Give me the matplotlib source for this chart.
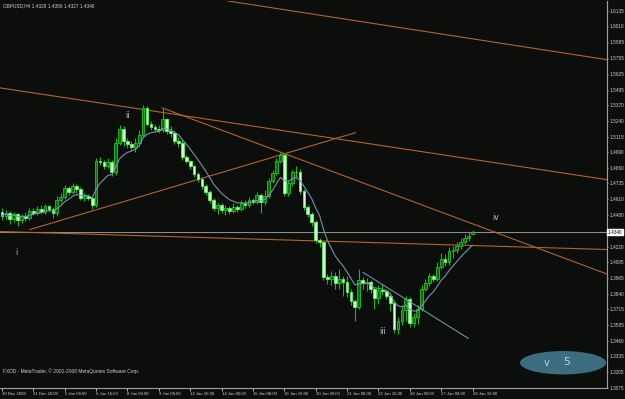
import numpy as np
import pandas as pd
import matplotlib
matplotlib.use("Agg")
import matplotlib.pyplot as plt
from matplotlib.patches import Ellipse

# =====================================================
# DATA (GBPUSD H4)
# =====================================================
first_open = 1.4507
closes = [1.4474, 1.4499, 1.4450, 1.4491, 1.4442, 1.4474, 1.4458, 1.4515, 1.4499, 1.4531,
          1.4507, 1.4555, 1.4531, 1.4499, 1.4604, 1.4628, 1.4701, 1.4669, 1.4718, 1.4693,
          1.4620, 1.4636, 1.4620, 1.4563, 1.4920, 1.4912, 1.4879, 1.4912, 1.4831, 1.5066,
          1.5179, 1.5082, 1.5058, 1.5033, 1.5066, 1.5131, 1.5349, 1.5220, 1.5195, 1.5179,
          1.5171, 1.5260, 1.5163, 1.5147, 1.5082, 1.5066, 1.4952, 1.4920, 1.4879, 1.4815,
          1.4774, 1.4718, 1.4669, 1.4604, 1.4539, 1.4563, 1.4523, 1.4539, 1.4515, 1.4547,
          1.4531, 1.4580, 1.4563, 1.4604, 1.4588, 1.4644, 1.4588, 1.4636, 1.4758, 1.4823,
          1.4920, 1.4968, 1.4661, 1.4742, 1.4831, 1.4828, 1.4677, 1.4547, 1.4491, 1.4426,
          1.4280, 1.4256, 1.3972, 1.3956, 1.3988, 1.3924, 1.3956, 1.3932, 1.3851, 1.3778,
          1.3729, 1.3948, 1.3924, 1.3932, 1.3875, 1.3802, 1.3867, 1.3859, 1.3818, 1.3762,
          1.3551, 1.3616, 1.3705, 1.3794, 1.3600, 1.3648, 1.3713, 1.3875, 1.3924, 1.3980,
          1.3956, 1.4061, 1.4118, 1.4094, 1.4183, 1.4199, 1.4231, 1.4264, 1.4296, 1.4312,
          1.4340]
highs = [1.4539, 1.4523, 1.4515, 1.4507, 1.4499, 1.4491, 1.4507, 1.4539, 1.4539, 1.4555,
         1.4564, 1.4572, 1.4563, 1.4547, 1.4636, 1.4661, 1.4726, 1.4718, 1.4742, 1.4734,
         1.4709, 1.4661, 1.4653, 1.4636, 1.4944, 1.4952, 1.4928, 1.4944, 1.4928, 1.5106,
         1.5212, 1.5203, 1.5106, 1.5082, 1.5106, 1.5171, 1.5374, 1.5365, 1.5244, 1.5220,
         1.5212, 1.5349, 1.5268, 1.5203, 1.5163, 1.5114, 1.5098, 1.4968, 1.4928, 1.4888,
         1.4831, 1.4790, 1.4734, 1.4685, 1.4620, 1.4580, 1.4580, 1.4563, 1.4555, 1.4580,
         1.4563, 1.4604, 1.4604, 1.4628, 1.4620, 1.4669, 1.4661, 1.4685, 1.4782, 1.4847,
         1.4944, 1.4993, 1.4985, 1.4766, 1.4847, 1.4879, 1.4855, 1.4693, 1.4563, 1.4507,
         1.4442, 1.4296, 1.4272, 1.3997, 1.4021, 1.4013, 1.4037, 1.3988, 1.3988, 1.3875,
         1.3794, 1.4037, 1.3972, 1.3964, 1.3948, 1.3891, 1.3907, 1.3916, 1.3875, 1.3835,
         1.3778, 1.3648, 1.3745, 1.3818, 1.3810, 1.3681, 1.3745, 1.3907, 1.3956, 1.4005,
         1.3997, 1.4094, 1.4167, 1.4159, 1.4223, 1.4231, 1.4264, 1.4296, 1.4321, 1.4345,
         1.4356]
lows = [1.4442, 1.4450, 1.4410, 1.4426, 1.4393, 1.4418, 1.4434, 1.4442, 1.4482, 1.4482,
        1.4491, 1.4491, 1.4507, 1.4458, 1.4474, 1.4580, 1.4612, 1.4644, 1.4653, 1.4661,
        1.4604, 1.4596, 1.4604, 1.4531, 1.4547, 1.4888, 1.4855, 1.4863, 1.4798, 1.4807,
        1.5050, 1.5041, 1.5025, 1.5009, 1.4993, 1.5041, 1.5114, 1.5203, 1.5171, 1.5155,
        1.5147, 1.5155, 1.5139, 1.5114, 1.5058, 1.5033, 1.4928, 1.4904, 1.4855, 1.4790,
        1.4750, 1.4693, 1.4644, 1.4580, 1.4515, 1.4491, 1.4499, 1.4482, 1.4491, 1.4499,
        1.4507, 1.4515, 1.4539, 1.4547, 1.4572, 1.4572, 1.4499, 1.4563, 1.4620, 1.4742,
        1.4807, 1.4904, 1.4636, 1.4636, 1.4718, 1.4782, 1.4653, 1.4523, 1.4466, 1.4393,
        1.4248, 1.4223, 1.3948, 1.3916, 1.3908, 1.3875, 1.3875, 1.3818, 1.3810, 1.3745,
        1.3616, 1.3713, 1.3875, 1.3859, 1.3843, 1.3713, 1.3754, 1.3826, 1.3794, 1.3697,
        1.3519, 1.3511, 1.3583, 1.3616, 1.3567, 1.3567, 1.3592, 1.3697, 1.3859, 1.3899,
        1.3932, 1.3940, 1.4037, 1.4069, 1.4077, 1.4134, 1.4167, 1.4207, 1.4240, 1.4272,
        1.4327]
last_open = 1.4328
opens = [first_open] + closes[:-1]
opens[-1] = last_open

price_ticks = [1.6135, 1.6010, 1.5885, 1.5755, 1.5625, 1.5495, 1.5370, 1.5240,
               1.5115, 1.4990, 1.4860, 1.4735, 1.4610, 1.4480, 1.4220,
               1.4095, 1.3965, 1.3840, 1.3715, 1.3585, 1.3460, 1.3335, 1.3205, 1.3075]
time_labels = ["30 Dec 2008", "31 Dec 20:00", "5 Jan 08:00", "6 Jan 16:00", "8 Jan 00:00",
               "9 Jan 08:00", "12 Jan 16:00", "14 Jan 00:00", "15 Jan 08:00", "16 Jan 16:00",
               "20 Jan 00:00", "21 Jan 08:00", "22 Jan 16:00", "26 Jan 00:00", "27 Jan 08:00",
               "28 Jan 16:00"]
last_price = 1.4340

# trendlines as (bar index, price) pairs
trend_orange = [
    [(57.7, 1.6216), (154.3, 1.5740)],
    [(-0.5, 1.5511), (154.3, 1.4766)],
    [(40.8, 1.5349), (154.3, 1.4000)],
    [(-0.5, 1.4345), (154.3, 1.4199)],
    [(7.1, 1.4361), (90.1, 1.5147)],
]
trend_blue = [(92.1, 1.4013), (118.9, 1.3478)]

wave_labels = [("i", 3.8, 1.4172), ("ii", 31.9, 1.5290), ("iii", 97.0, 1.3530), ("iv", 126.0, 1.4458)]

# small narrow-ish font like the terminal's
small = ["Liberation Sans", "DejaVu Sans"]
txt_col = "#d0d0d0"

# =====================================================
# PLOT
# =====================================================
bg = "#0b0e0b"
fig = plt.figure(figsize=(6.25, 3.99), dpi=100, facecolor=bg)
ax = fig.add_axes([0, 11 / 399, 607 / 625, 387 / 399], facecolor=bg)

idx = np.arange(len(closes))
o = np.array(opens)
c = np.array(closes)

# candles
ax.vlines(idx, lows, highs, color="#19b419", lw=0.8, zorder=3)
up = c >= o
body = np.maximum(np.abs(c - o), 0.0004)
ax.bar(idx[up], body[up], bottom=np.minimum(o, c)[up], width=0.7,
       color="#0b6e0b", edgecolor="#22c422", lw=0.6, zorder=4)
ax.bar(idx[~up], body[~up], bottom=np.minimum(o, c)[~up], width=0.7,
       color="#d8ffd8", edgecolor="#4cff4c", lw=0.6, zorder=4)

# moving average
ma = pd.Series(closes).ewm(span=8).mean()
ax.plot(idx, ma, color="#7592b0", lw=0.8, zorder=5)

# trendlines
for seg in trend_orange:
    xs, ys = zip(*seg)
    ax.plot(xs, ys, color="#b4632b", lw=0.8, zorder=2)
xs, ys = zip(*trend_blue)
ax.plot(xs, ys, color="#6f8fa8", lw=0.8, zorder=5)

ax.axhline(last_price, color="#8c8c8c", lw=0.8, zorder=1)

# wave labels
for txt, x, y in wave_labels:
    ax.text(x, y, txt, color="#b4c8e6", fontsize=5.5, ha="center", va="center", zorder=6)

ell = Ellipse((143.1, 1.3280), 22, 0.0190, facecolor="#3c6c7e", edgecolor="none", zorder=6)
ax.add_patch(ell)
ax.text(139.0, 1.3276, "v", color="#a8d8f4", fontsize=7, ha="center", va="center", zorder=7)
ax.text(144.1, 1.3282, "5", color="#a8d8f4", fontsize=8, ha="center", va="center", zorder=7)

ax.set_xlim(-0.5, 154.3)
ax.set_ylim(1.3080, 1.6216)

# axes
ax.yaxis.tick_right()
ax.set_yticks(price_ticks)
ax.set_yticklabels([f"{v:.4f}" for v in price_ticks])
ax.set_xticks(np.arange(0, 121, 8))
ax.set_xticklabels(time_labels)
ax.tick_params(axis="y", colors=txt_col, length=1, width=0.6, pad=0.6)
ax.tick_params(axis="x", colors=txt_col, length=2, width=0.6, pad=1)
for lab in ax.get_yticklabels():
    lab.set_family(small)
    lab.set_fontsize(3.4)
for lab in ax.get_xticklabels():
    lab.set_family(small)
    lab.set_fontsize(3.1)
    lab.set_ha("left")

for s in ["left", "top"]:
    ax.spines[s].set_visible(False)
for s in ["right", "bottom"]:
    ax.spines[s].set_color("#a0a0a0")
    ax.spines[s].set_linewidth(0.8)

ax.text(1.0015, last_price, f"{last_price:.4f}", transform=ax.get_yaxis_transform(),
        fontsize=3.4, family=small, color="black", va="center", ha="left",
        bbox=dict(boxstyle="square,pad=0.15", fc="white", ec="white"), zorder=8)

fig.text(3 / 625, 1 - 6 / 399, "GBPUSD,H4 1.4328 1.4356 1.4327 1.4340",
         color=txt_col, fontsize=3.4, family=small, va="center", ha="left")
fig.text(3 / 625, 1 - 371 / 399, "FXDD - MetaTrader, \u00a9 2001-2008 MetaQuotes Software Corp.",
         color=txt_col, fontsize=3.5, family=small, va="center", ha="left")

fig.savefig("out.png", dpi=100, facecolor=bg)
